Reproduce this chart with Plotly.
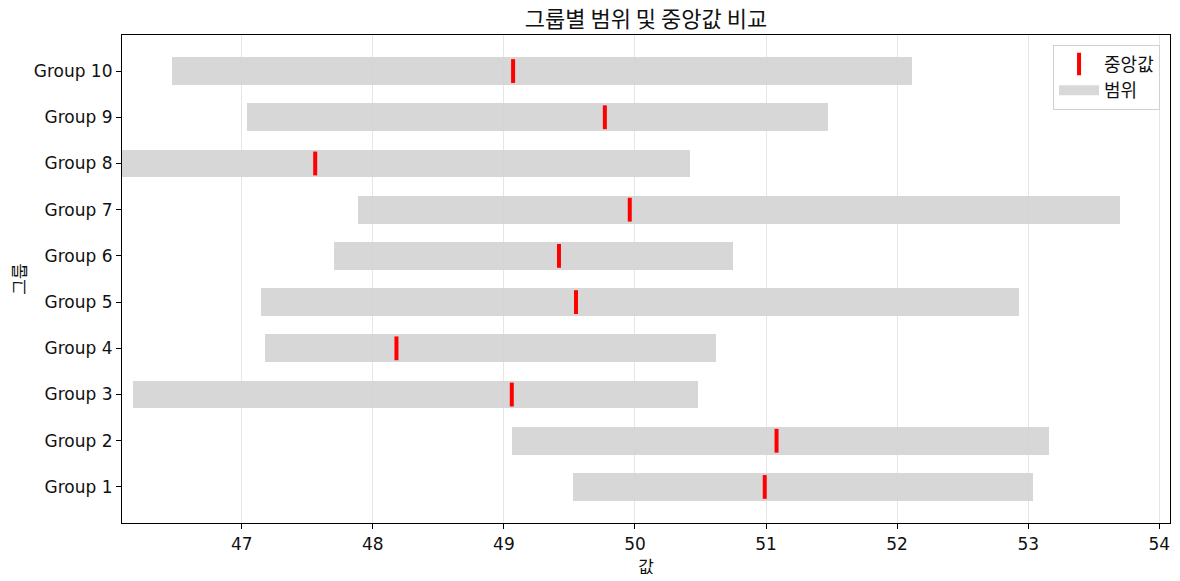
import plotly.graph_objects as go

groups = ["Group 1", "Group 2", "Group 3", "Group 4", "Group 5",
          "Group 6", "Group 7", "Group 8", "Group 9", "Group 10"]
low = [49.53, 49.06, 46.17, 47.18, 47.15, 47.70, 47.89, 46.00, 47.04, 46.47]
high = [53.04, 53.16, 50.48, 50.62, 52.93, 50.75, 53.70, 50.42, 51.47, 52.11]
median = [50.99, 51.08, 49.06, 48.18, 49.55, 49.42, 49.96, 47.56, 49.77, 49.07]

FONT = "DejaVu Sans, Noto Sans CJK KR"
KFONT = "Noto Sans CJK KR"
BAR_COLOR = "rgba(211,211,211,0.9)"

fig = go.Figure()
fig.add_trace(go.Scatter(
    x=median, y=groups, mode="markers", name="중앙값",
    marker=dict(symbol="line-ns", size=17, color="red",
                line=dict(width=4, color="red")),
))
fig.add_trace(go.Bar(
    y=groups, x=[h - l for h, l in zip(high, low)], base=low,
    orientation="h", width=0.6, name="범위", showlegend=False,
    marker=dict(color=BAR_COLOR, line=dict(width=0)),
))
# legend stand-in for the range bars (wide grey patch)
fig.add_trace(go.Scatter(
    x=[None], y=[None], mode="lines", name="범위",
    line=dict(color="rgb(216,216,216)", width=10),
))

fig.update_layout(
    width=1180, height=581,
    paper_bgcolor="white", plot_bgcolor="white",
    margin=dict(l=122, r=10, t=35, b=58, autoexpand=False),
    font=dict(family=FONT, size=17, color="#111"),
    title=dict(text="그룹별 범위 및 중앙값 비교", x=0.5, xref="paper",
               xanchor="center", y=0.966, yanchor="middle",
               font=dict(family=KFONT, size=22, color="#111")),
    showlegend=True,
    legend=dict(x=0.9905, y=0.98, xanchor="right", yanchor="top",
                bordercolor="#d0d0d0", borderwidth=1, bgcolor="rgba(255,255,255,0.8)",
                font=dict(family=KFONT, size=18),
                tracegroupgap=0, itemwidth=40),
    bargap=0,
)
fig.update_xaxes(
    range=[46.086, 54.082], dtick=1, tick0=47, automargin=False,
    showgrid=True, gridcolor="rgba(0,0,0,0.1)", gridwidth=1,
    showline=True, linecolor="black", linewidth=1.2, mirror=True,
    ticks="outside", ticklen=5, tickcolor="black",
    zeroline=False,
    title=dict(text="값", standoff=0, font=dict(family=KFONT, size=17)),
)
fig.update_yaxes(
    type="category", categoryorder="array", categoryarray=groups,
    range=[-0.78, 9.78], automargin=False,
    showgrid=False,
    showline=True, linecolor="black", linewidth=1.2, mirror=True,
    ticks="outside", ticklen=5, tickcolor="black",
    title=dict(text="그룹", standoff=2, font=dict(family=KFONT, size=17)),
)

fig.write_html("out.html", config={"displayModeBar": False},
               post_script="document.body.style.margin='0';document.body.style.padding='0';")
